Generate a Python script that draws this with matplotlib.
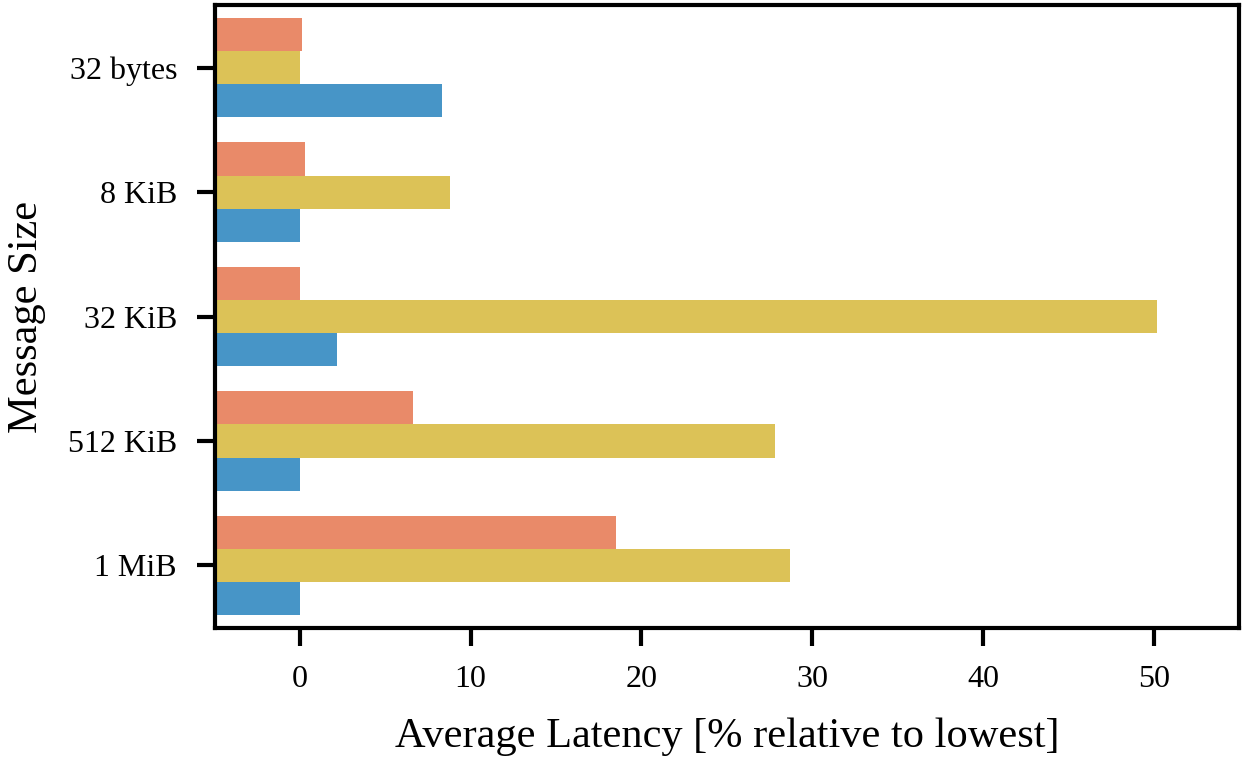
import numpy as np
import matplotlib
matplotlib.use("Agg")
import matplotlib.pyplot as plt

# -- Data ----------------------------------------------------------------
sizes = ["32 bytes", "8 KiB", "32 KiB", "512 KiB", "1 MiB"]
series_names = ["A", "B", "C"]          # top, middle, bottom bar in each group
latency_a = [0.15, 0.3, 0.0, 6.65, 18.5]
latency_b = [0.0, 8.8, 50.2, 27.85, 28.7]
latency_c = [8.3, 0.0, 2.15, 0.0, 0.0]
colors = ["#E98A69", "#DCC257", "#4795C7"]

XMIN, XMAX = -5, 55
x_ticks = [0, 10, 20, 30, 40, 50]

plt.rcParams.update({
    "font.family": ["Liberation Serif", "DejaVu Serif"],
    "axes.linewidth": 3.0,
})

fig = plt.figure(figsize=(12.46, 7.62), dpi=100)
ax = fig.add_axes([0.1722, 0.1763, 0.8222, 0.8165])

y = np.arange(len(sizes))
h = 0.8 / 3
for i, vals in enumerate([latency_a, latency_b, latency_c]):
    vals = np.asarray(vals)
    # bars are anchored at the left edge of the axes
    ax.barh(y + (i - 1) * h, vals - XMIN, left=XMIN, height=h,
            color=colors[i], linewidth=0, label=series_names[i])

ax.set_xlim(XMIN, XMAX)
ax.set_ylim(len(sizes) - 0.5, -0.5)
ax.set_yticks(y)
ax.set_yticklabels(sizes)
ax.set_xticks(x_ticks)

ax.tick_params(axis="both", which="major", length=13, width=3,
               labelsize=23, pad=14, direction="out")
ax.tick_params(top=False, right=False)

ax.set_xlabel("Average Latency [% relative to lowest]", fontsize=30.5, labelpad=17)
ax.set_ylabel("Message Size", fontsize=30.5, labelpad=16)

fig.savefig("out.png", dpi=100)
